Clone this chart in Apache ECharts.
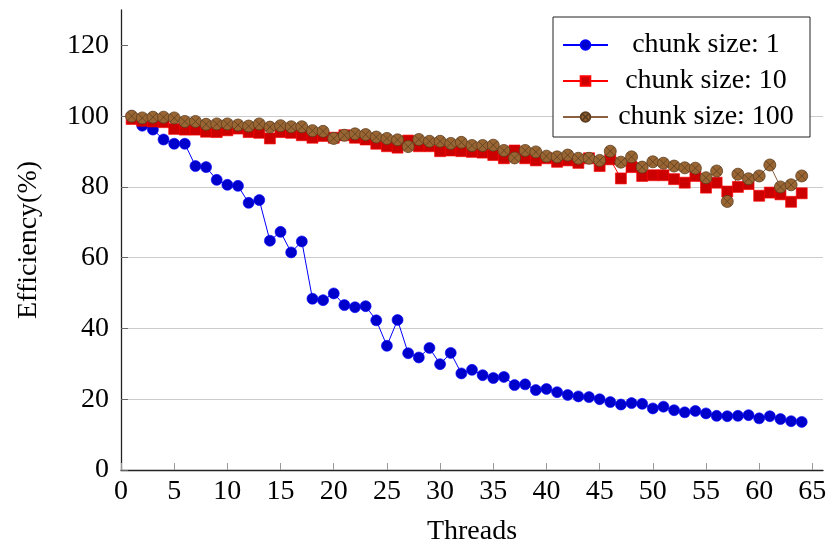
<!DOCTYPE html>
<html>
<head>
<meta charset="utf-8">
<script src="https://cdn.jsdelivr.net/npm/echarts@6/dist/echarts.min.js"></script>
<style>
html,body{margin:0;padding:0;background:#fff;}
#main{width:832px;height:549px;}
</style>
</head>
<body>
<div id="main"></div>
<script>
//线程数
var threads = [1,2,3,4,5,6,7,8,9,10,11,12,13,14,15,16,17,18,19,20,21,22,23,24,25,26,27,28,29,30,31,32,
	33,34,35,36,37,38,39,40,41,42,43,44,45,46,47,48,49,50,51,52,53,54,55,56,57,58,59,60,61,62,63,64];
//chunk size 1
var chunk1 = [100,97.3,96.2,93.4,92.2,92.2,85.9,85.6,82.0,80.6,
	80.3,75.5,76.3,64.8,67.3,61.5,64.6,48.4,48.0,49.9,
	46.6,46.0,46.3,42.3,35.1,42.4,33.0,31.8,34.5,29.9,
	33.1,27.3,28.3,26.8,26.0,26.3,24.0,24.2,22.6,22.9,
	22.0,21.2,20.8,20.6,20.0,19.2,18.5,18.9,18.7,17.4,
	17.9,16.9,16.3,16.7,16.0,15.3,15.2,15.3,15.5,14.6,
	15.2,14.4,13.8,13.6];
//chunk size 10
var chunk10 = [99.2,98.7,98.5,98.3,96.4,96.2,96.2,95.6,95.5,96.0,
	96.5,95.5,95.3,93.7,95.5,95.3,94.6,93.9,94.4,93.9,
	94.6,93.9,93.4,92.2,91.5,91.1,93.1,91.5,91.5,90.1,
	90.3,90.1,89.9,89.7,89.0,88.1,90.3,88.1,87.5,88.1,
	87.1,87.5,86.8,88.1,85.9,87.8,82.4,85.6,83.1,83.3,
	83.3,82.2,81.2,83.1,79.8,81.2,78.7,80.0,80.8,77.5,
	78.4,77.9,75.8,78.2];
//chunk size 100
var chunk100 = [100.0,99.5,99.7,99.7,99.5,98.5,98.5,97.7,97.8,97.8,
	97.5,97.2,97.8,96.9,97.3,97.0,97.0,95.9,95.7,93.7,
	94.6,95.0,94.8,94.1,93.7,93.3,91.4,93.4,92.9,92.9,
	92.3,92.6,91.7,91.7,91.8,90.3,88.2,90.3,89.9,88.7,
	88.5,89.0,88.1,88.1,87.5,90.1,87.0,88.5,85.6,87.1,
	86.7,85.9,85.4,85.3,82.6,84.5,75.9,83.6,82.3,83.1,
	86.2,80.0,80.6,83.1];
var yTicks = [0,20,40,60,80,100,120];
var seriesNames = ['chunk size: 1','chunk size: 10','chunk size: 100'];

var font = '"Liberation Serif", "DejaVu Serif", serif';
var fs = 28;

function pairs(ys){
	var out = [];
	for(var i = 0; i < threads.length; i++){
		out.push([threads[i], ys[i]]);
	}
	return out;
}

//圆圈里带叉的标记
var otimes = 'path://M10,0 A10,10 0 1,1 10,20 A10,10 0 1,1 10,0 Z M2.93,2.93 L17.07,17.07 M17.07,2.93 L2.93,17.07';

var myChart = echarts.init(document.getElementById('main'), null, {renderer: 'canvas'});
var option = {
	animation: false,
	backgroundColor: '#fff',
	textStyle: {fontFamily: font},
	grid: {left: 121, right: 9, top: 10, bottom: 79, containLabel: false, outerBoundsMode: 'none'},
	legend: {
		orient: 'vertical',
		left: 553,
		top: 17,
		padding: [14, 11, 6, 9],
		itemWidth: 45,
		itemHeight: 12,
		itemGap: 8,
		backgroundColor: '#fff',
		borderColor: '#222',
		borderWidth: 1,
		borderRadius: 0,
		data: seriesNames,
		formatter: function(name){ return '{t|' + name + '}'; },
		textStyle: {
			fontFamily: font,
			fontSize: fs,
			color: '#000',
			rich: {t: {width: 186, align: 'center', fontFamily: font, fontSize: fs, lineHeight: 26, color: '#000'}}
		}
	},
	xAxis: {
		type: 'value',
		min: 0,
		max: 66,
		interval: 5,
		name: 'Threads',
		nameLocation: 'middle',
		nameGap: 48,
		nameTextStyle: {fontFamily: font, fontSize: fs, color: '#000'},
		axisLine: {lineStyle: {color: '#222', width: 1.3}},
		axisTick: {inside: true, length: 7, lineStyle: {color: '#999'}},
		axisLabel: {fontFamily: font, fontSize: fs, color: '#000', margin: 8, showMaxLabel: false},
		splitLine: {show: false}
	},
	yAxis: {
		type: 'value',
		min: 0,
		max: 130,
		interval: 20,
		name: 'Efficiency(%)',
		nameLocation: 'middle',
		nameGap: 78,
		nameTextStyle: {fontFamily: font, fontSize: fs, color: '#000'},
		axisLine: {show: true, lineStyle: {color: '#222', width: 1.3}},
		axisTick: {inside: true, length: 7, lineStyle: {color: '#666'}, customValues: yTicks},
		axisLabel: {fontFamily: font, fontSize: fs, color: '#000', margin: 12, customValues: yTicks},
		splitLine: {show: true, showMaxLine: false, lineStyle: {color: '#cccccc', width: 1}}
	},
	series: [
		{
			name: seriesNames[0],
			type: 'line',
			data: pairs(chunk1),
			symbol: 'circle',
			symbolSize: 11,
			lineStyle: {color: '#0000ff', width: 1},
			itemStyle: {color: '#0000cc', borderColor: '#0000ff', borderWidth: 0.6}
		},
		{
			name: seriesNames[1],
			type: 'line',
			data: pairs(chunk10),
			symbol: 'rect',
			symbolSize: 11,
			lineStyle: {color: '#ff0000', width: 1},
			itemStyle: {color: '#cc0000', borderColor: '#ff0000', borderWidth: 0.6}
		},
		{
			name: seriesNames[2],
			type: 'line',
			data: pairs(chunk100),
			symbol: otimes,
			symbolSize: 12,
			lineStyle: {color: '#8a6040', width: 1},
			itemStyle: {color: '#996633', borderColor: '#5c3d1f', borderWidth: 0.8}
		}
	]
};
myChart.setOption(option);
</script>
</body>
</html>
